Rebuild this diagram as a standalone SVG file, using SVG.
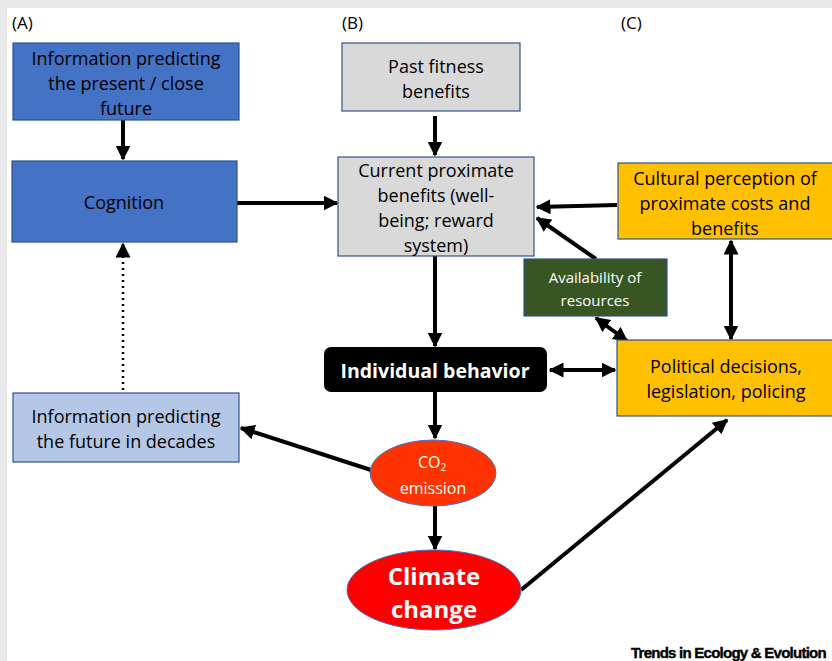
<svg xmlns="http://www.w3.org/2000/svg" width="832" height="661" viewBox="0 0 832 661">
<style>
text{font-family:"Open Sans","Liberation Sans",sans-serif;text-anchor:middle;dominant-baseline:central}
.t{font-size:18px;fill:#000}
.w{fill:#fff}
.box{stroke:#2F528F;stroke-width:1.2}
.c{stroke:#000;stroke-width:4;fill:none}
.lbl{font-size:17px;text-anchor:start}
</style>
<defs>
<marker id="ah" viewBox="0 0 10 10" refX="9" refY="5" markerWidth="15" markerHeight="15" markerUnits="userSpaceOnUse" orient="auto-start-reverse">
<path d="M0,0 L10,5 L0,10 z" fill="#000"/>
</marker>
</defs>
<rect x="0" y="0" width="832" height="661" fill="#fff"/>
<rect x="0" y="0" width="832" height="8" fill="#E9E9EC"/>
<rect x="0" y="0" width="7" height="661" fill="#E9E9EC"/>
<text class="lbl" x="12" y="22">(A)</text>
<text class="lbl" x="342" y="22">(B)</text>
<text class="lbl" x="621" y="22">(C)</text>

<g id="connectors">
<line class="c" x1="123" y1="120" x2="123" y2="159" marker-end="url(#ah)"/>
<line class="c" x1="237" y1="203" x2="337" y2="203" marker-end="url(#ah)"/>
<line x1="123" y1="390" x2="123" y2="244" stroke="#000" stroke-width="2.5" stroke-dasharray="2,4" marker-end="url(#ah)"/>
<line class="c" x1="435" y1="116" x2="435" y2="155" marker-end="url(#ah)"/>
<line class="c" x1="617" y1="205" x2="537" y2="207" marker-end="url(#ah)"/>
<line class="c" x1="596" y1="259" x2="537" y2="218" marker-end="url(#ah)"/>
<line class="c" x1="435" y1="256" x2="435" y2="346" marker-end="url(#ah)"/>
<line class="c" x1="550" y1="370" x2="615" y2="370" marker-start="url(#ah)" marker-end="url(#ah)"/>
<line class="c" x1="596" y1="318" x2="627" y2="341" marker-start="url(#ah)" marker-end="url(#ah)"/>
<line class="c" x1="731" y1="241" x2="731" y2="339" marker-start="url(#ah)" marker-end="url(#ah)"/>
<line class="c" x1="435" y1="392" x2="435" y2="438" marker-end="url(#ah)"/>
<line class="c" x1="371" y1="470" x2="241" y2="428" marker-end="url(#ah)"/>
<line class="c" x1="435" y1="506" x2="435" y2="549" marker-end="url(#ah)"/>
<line class="c" x1="521" y1="590" x2="727" y2="420" marker-end="url(#ah)"/>
</g>

<g id="info-present">
<rect class="box" x="13" y="43" width="226" height="77" fill="#4472C4"/>
<text class="t" x="126" y="58">Information predicting</text>
<text class="t" x="126" y="83">the present / close</text>
<text class="t" x="126" y="108">future</text>
</g>
<g id="cognition">
<rect class="box" x="12" y="161" width="225" height="81" fill="#4472C4"/>
<text class="t" x="124" y="202">Cognition</text>
</g>
<g id="info-future">
<rect class="box" x="13" y="393" width="226" height="69" fill="#B4C7E7"/>
<text class="t" x="126" y="416">Information predicting</text>
<text class="t" x="126" y="441">the future in decades</text>
</g>
<g id="past-fitness">
<rect class="box" x="342" y="43" width="178" height="68" fill="#D9D9D9"/>
<text class="t" x="436" y="66">Past fitness</text>
<text class="t" x="436" y="91">benefits</text>
</g>
<g id="current">
<rect class="box" x="338" y="157" width="196" height="99" fill="#D9D9D9"/>
<text class="t" x="436" y="170">Current proximate</text>
<text class="t" x="436" y="195">benefits (well-</text>
<text class="t" x="436" y="220">being; reward</text>
<text class="t" x="436" y="245">system)</text>
</g>
<g id="cultural">
<rect class="box" x="618" y="163" width="218" height="76" fill="#FFC000"/>
<text class="t" x="725" y="178">Cultural perception of</text>
<text class="t" x="725" y="203">proximate costs and</text>
<text class="t" x="725" y="228">benefits</text>
</g>
<g id="availability">
<rect class="box" x="524" y="259" width="143" height="57" fill="#375623"/>
<text class="w" x="595" y="277" font-size="15">Availability of</text>
<text class="w" x="595" y="300" font-size="15">resources</text>
</g>
<g id="political">
<rect class="box" x="617" y="340" width="219" height="76" fill="#FFC000"/>
<text class="t" x="726" y="366">Political decisions,</text>
<text class="t" x="726" y="391">legislation, policing</text>
</g>
<g id="individual">
<rect x="324" y="347" width="223" height="45" rx="7" fill="#000"/>
<text class="w" x="435" y="370" font-size="19.5" font-weight="bold">Individual behavior</text>
</g>
<g id="co2">
<ellipse cx="433" cy="473" rx="63" ry="33" fill="#FF3300" stroke="#4472C4" stroke-width="1"/>
<text class="w" x="432" y="462" font-size="16">CO<tspan font-size="10" dy="5">2</tspan></text>
<text class="w" x="433" y="488" font-size="16">emission</text>
</g>
<g id="climate">
<ellipse cx="434" cy="590" rx="87" ry="40" fill="#FF0000" stroke="#4472C4" stroke-width="1"/>
<text class="w" x="434" y="575" font-size="24" font-weight="bold">Climate</text>
<text class="w" x="434" y="608" font-size="24" font-weight="bold">change</text>
</g>
<text x="631" y="652" style="text-anchor:start;font-family:'Liberation Sans',Arial,sans-serif;font-weight:bold;font-size:15px;letter-spacing:-0.75px;stroke:#000;stroke-width:0.4" fill="#000">Trends in Ecology &amp; Evolution</text>
</svg>
